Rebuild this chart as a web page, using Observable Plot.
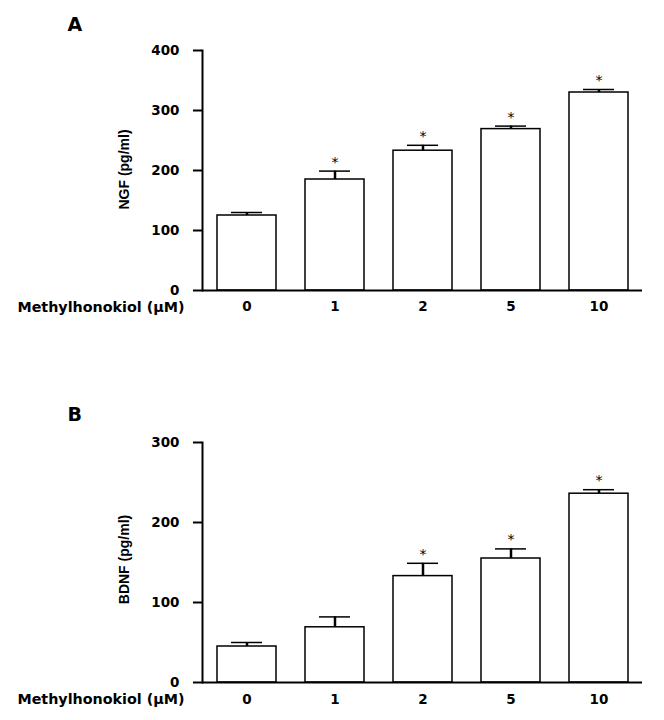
<!DOCTYPE html>
<html>
<head>
<meta charset="utf-8">
<script src="https://cdn.jsdelivr.net/npm/d3@7"></script>
<script src="https://cdn.jsdelivr.net/npm/@observablehq/plot@0.6"></script>
<style>
  html, body { margin: 0; padding: 0; background: #fff; }
  #chart { width: 664px; }
  #chart svg { display: block; }
</style>
</head>
<body>
<div id="chart"></div>
<script>
const doses = ["0", "1", "2", "5", "10"];
const ngfMean = [125, 185, 233, 269, 330];
const ngfSem = [5, 14, 9, 5, 5];
const ngfSig = [false, true, true, true, true];
const bdnfMean = [45, 69, 133, 155, 236];
const bdnfSem = [5, 13, 16, 12, 5];
const bdnfSig = [false, false, true, true, true];
const ngfTicks = [0, 100, 200, 300, 400];
const bdnfTicks = [0, 100, 200, 300];
const xLabel = "Methylhonokiol (\u00b5M)";

const tickFont = "DejaVu Sans, sans-serif";
const titleFont = "Liberation Sans, Arial, sans-serif";

function panel({letter, yTitle, means, sems, sig, ticks, yMax, height, marginTop, marginBottom, letterDy, titleDy, xLabelDy, xTickPadding}) {
  const data = doses.map((d, i) => ({dose: d, mean: means[i], top: means[i] + sems[i], sig: sig[i]}));
  return Plot.plot({
    width: 664,
    height,
    marginTop,
    marginBottom,
    marginLeft: 202,
    marginRight: 22,
    style: {background: "white", color: "black", overflow: "visible"},
    x: {domain: doses, paddingInner: 0.33, paddingOuter: 0.16, label: null},
    y: {domain: [0, yMax], label: null},
    marks: [
      Plot.barY(data, {x: "dose", y: "mean", fill: "white", stroke: "black", strokeWidth: 1.5}),
      Plot.ruleX(data, {x: "dose", y1: "mean", y2: "top", stroke: "black", strokeWidth: 2.5}),
      Plot.tickY(data, {x: "dose", y: "top", stroke: "black", strokeWidth: 1.5, insetLeft: 14, insetRight: 14}),
      Plot.text(data.filter(d => d.sig), {x: "dose", y: "top", text: () => "*", dy: -9, fontSize: 14, fontFamily: tickFont, fill: "black"}),
      Plot.ruleY([0], {stroke: "black", strokeWidth: 2}),
      Plot.frame({anchor: "left", stroke: "black", strokeWidth: 2}),
      Plot.axisY({ticks, tickSize: 9, tickPadding: 14, strokeWidth: 2, fontSize: 13.5, fontWeight: "bold", fontFamily: tickFont, label: null}),
      Plot.axisX({tickSize: 0, tickPadding: xTickPadding, fontSize: 13.5, fontWeight: "bold", fontFamily: tickFont, label: null}),
      Plot.text([xLabel], {frameAnchor: "bottom-left", text: d => d, textAnchor: "end", lineAnchor: "middle", dx: -18, dy: xLabelDy, fontSize: 14.3, fontWeight: "bold", fontFamily: tickFont, fill: "black"}),
      Plot.text([yTitle], {frameAnchor: "left", text: d => d, textAnchor: "middle", lineAnchor: "middle", rotate: -90, dx: -78, dy: titleDy, fontSize: 14, fontWeight: "bold", fontFamily: titleFont, fill: "black"}),
      Plot.text([letter], {frameAnchor: "top-left", text: d => d, textAnchor: "start", lineAnchor: "top", dx: -135, dy: letterDy, fontSize: 19, fontWeight: "bold", fontFamily: tickFont, fill: "black"})
    ]
  });
}

const chart = document.getElementById("chart");
chart.append(panel({
  letter: "A", yTitle: "NGF (pg/ml)", means: ngfMean, sems: ngfSem, sig: ngfSig, ticks: ngfTicks, yMax: 400,
  height: 340, marginTop: 50, marginBottom: 50, letterDy: -33, titleDy: -1, xLabelDy: 17, xTickPadding: 11
}));
chart.append(panel({
  letter: "B", yTitle: "BDNF (pg/ml)", means: bdnfMean, sems: bdnfSem, sig: bdnfSig, ticks: bdnfTicks, yMax: 300,
  height: 380, marginTop: 102, marginBottom: 38, letterDy: -35, titleDy: -3, xLabelDy: 17, xTickPadding: 12
}));
</script>
</body>
</html>
